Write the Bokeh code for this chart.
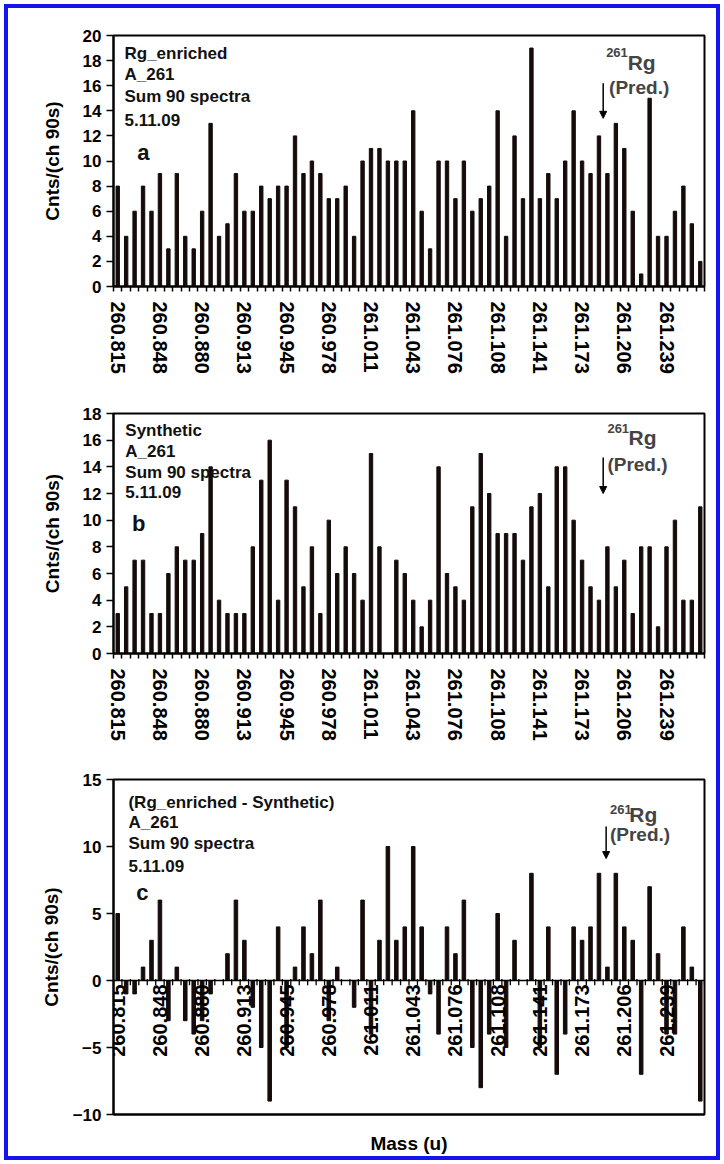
import numpy as np
from bokeh.plotting import figure
from bokeh.models import FixedTicker, Label, Arrow, NormalHead, Span, ColumnDataSource
from bokeh.layouts import column
from bokeh.embed import file_html
from bokeh.resources import INLINE
from bokeh.core.properties import value

# ---------------- data ----------------
mass_labels = ["260.815", "260.848", "260.880", "260.913", "260.945", "260.978", "261.011",
               "261.043", "261.076", "261.108", "261.141", "261.173", "261.206", "261.239"]
label_every = 5  # one mass label every 5 channels

enriched = [8, 4, 6, 8, 6, 9, 3, 9, 4, 3, 6, 13, 4, 5, 9, 6, 6, 8, 7, 8,
            8, 12, 9, 10, 9, 7, 7, 8, 4, 10, 11, 11, 10, 10, 10, 14, 6, 3, 10, 10,
            7, 10, 6, 7, 8, 14, 4, 12, 7, 19, 7, 9, 7, 10, 14, 10, 9, 12, 9, 13,
            11, 6, 1, 15, 4, 4, 6, 8, 5, 2]
synthetic = [3, 5, 7, 7, 3, 3, 6, 8, 7, 7, 9, 14, 4, 3, 3, 3, 8, 13, 16, 4,
             13, 11, 5, 8, 3, 10, 6, 8, 6, 4, 15, 8, 0, 7, 6, 4, 2, 4, 14, 6,
             5, 4, 11, 15, 12, 9, 9, 9, 7, 11, 12, 5, 14, 14, 10, 7, 5, 4, 8, 5,
             7, 3, 8, 8, 2, 8, 10, 4, 4, 11]
difference = [5, -1, -1, 1, 3, 6, -3, 1, -3, -4, -3, -1, 0, 2, 6, 3, -2, -5, -9, 4,
              -5, 1, 4, 2, 6, -3, 1, 0, -2, 6, -4, 3, 10, 3, 4, 10, 4, -1, -4, 4,
              2, 6, -5, -8, -4, 5, -5, 3, 0, 8, -5, 4, -7, -4, 4, 3, 4, 8, 1, 8,
              4, 3, -7, 7, 2, -4, -4, 4, 1, -9]

panel_titles = [["Rg_enriched", "A_261", "Sum 90 spectra", "5.11.09"],
                ["Synthetic", "A_261", "Sum 90 spectra", "5.11.09"],
                ["(Rg_enriched - Synthetic)", "A_261", "Sum 90 spectra", "5.11.09"]]
panel_letters = ["a", "b", "c"]

FONT = "Liberation Sans"
BAR = "#150b0b"
n = len(enriched)
channels = list(range(n))
label_pos = [label_every * k for k in range(len(mass_labels))]
boundaries = [i - 0.5 for i in range(n + 1)]


def base_fig(height, top, bottom, yr, yticks, standoff):
    p = figure(width=708, height=height, x_range=(-0.5, n - 0.5), y_range=yr,
               output_backend="svg", toolbar_location=None,
               min_border_left=105, min_border_right=12,
               min_border_top=top, min_border_bottom=bottom)
    p.background_fill_color = "white"
    p.border_fill_color = "white"
    p.outline_line_color = "black"
    p.outline_line_width = 2
    p.grid.visible = False
    ax = p.yaxis[0]
    ax.ticker = FixedTicker(ticks=yticks)
    ax.axis_line_width = 2
    ax.major_tick_out = 7
    ax.major_tick_in = 0
    ax.major_tick_line_width = 1.5
    ax.minor_tick_line_color = None
    ax.major_label_standoff = 5
    ax.major_label_text_font = FONT
    ax.major_label_text_font_style = "bold"
    ax.major_label_text_font_size = "17px"
    ax.major_label_text_color = "black"
    ax.axis_label = "Cnts/(ch 90s)"
    ax.axis_label_text_font = FONT
    ax.axis_label_text_font_style = "bold"
    ax.axis_label_text_font_size = "19px"
    ax.axis_label_text_color = "black"
    ax.axis_label_standoff = standoff
    return p


def style_mass_axis(p):
    ax = p.xaxis[0]
    ax.ticker = FixedTicker(ticks=label_pos, minor_ticks=boundaries)
    ax.major_label_overrides = {pos: lab for pos, lab in zip(label_pos, mass_labels)}
    ax.major_label_orientation = "vertical"
    ax.axis_line_width = 2
    ax.major_tick_line_color = None
    ax.major_tick_out = 0
    ax.minor_tick_out = 5
    ax.minor_tick_in = 0
    ax.minor_tick_line_width = 1.5
    ax.major_label_standoff = 10
    ax.major_label_text_font = FONT
    ax.major_label_text_font_style = "bold"
    ax.major_label_text_font_size = "20px"
    ax.major_label_text_color = "black"


def add_texts(p, lines, ys, x0, letter, lx, ly):
    for t, y in zip(lines, ys):
        p.add_layout(Label(x=x0, y=y, text=t, text_font=FONT, text_font_style="bold",
                           text_font_size="17px", text_baseline="middle", text_color="#111111"))
    p.add_layout(Label(x=lx, y=ly, text=letter, text_font=FONT, text_font_style="bold",
                       text_font_size="22px", text_baseline="middle", text_color="#111111"))


def add_pred(p, sx, sy, rx, ry, px, py, ax_, ay0, ay1):
    p.add_layout(Label(x=sx, y=sy, text="261", text_font=FONT, text_font_style="bold",
                       text_font_size="13px", text_baseline="middle"))
    p.add_layout(Label(x=rx, y=ry, text="Rg", text_font=FONT, text_font_style="bold",
                       text_font_size="21px", text_baseline="middle"))
    p.add_layout(Label(x=px, y=py, text="(Pred.)", text_font=FONT, text_font_style="bold",
                       text_font_size="19px", text_baseline="middle"))
    p.add_layout(Arrow(x_start=ax_, y_start=ay0, x_end=ax_, y_end=ay1, line_width=1.5,
                       line_color="black",
                       end=NormalHead(size=7, fill_color="black", line_color="black")))


# ---------------- panel a ----------------
p1 = base_fig(368, 27, 89, (0, 20), list(range(0, 21, 2)), 17)
p1.vbar(x=channels, top=enriched, width=0.4, color=BAR)
style_mass_axis(p1)
add_texts(p1, panel_titles[0], [18.57, 16.9, 15.16, 13.25], 0.8, panel_letters[0], 2.3, 10.7)
add_pred(p1, 57.85, 18.65, 60.4, 17.86, 58.2, 15.87, 57.5, 16.2, 13.4)

# ---------------- panel b ----------------
p2 = base_fig(372, 37, 95, (0, 18), list(range(0, 19, 2)), 17)
p2.vbar(x=channels, top=synthetic, width=0.4, color=BAR)
style_mass_axis(p2)
add_texts(p2, panel_titles[1], [16.7, 15.15, 13.6, 12.1], 0.9, panel_letters[1], 1.7, 9.75)
add_pred(p2, 58.0, 16.9, 60.5, 16.2, 58.0, 14.2, 57.5, 14.7, 12.0)

# ---------------- panel c ----------------
p3 = base_fig(408, 31, 42, (-10, 15), list(range(-10, 16, 5)), 8)
p3.vbar(x=channels, top=difference, width=0.42, color=BAR)
p3.add_layout(Span(location=0, dimension="width", line_color="black", line_width=1.5))
zsrc = ColumnDataSource(dict(x=boundaries, y0=[0.12] * len(boundaries), y1=[-0.35] * len(boundaries)))
p3.segment(x0="x", y0="y0", x1="x", y1="y1", source=zsrc, line_color="black", line_width=1.3)
lsrc = ColumnDataSource(dict(x=label_pos, y=[0] * len(label_pos), t=mass_labels))
p3.text(x="x", y="y", text="t", source=lsrc, angle=np.pi / 2, text_align="right",
        text_baseline="middle", y_offset=4, text_font=value(FONT), text_font_style="bold",
        text_font_size="20px", text_color="black")
xa = p3.xaxis[0]
xa.ticker = FixedTicker(ticks=[])
xa.axis_line_width = 2
xa.axis_label = "Mass (u)"
xa.axis_label_text_font = FONT
xa.axis_label_text_font_style = "bold"
xa.axis_label_text_font_size = "19px"
xa.axis_label_text_color = "black"
xa.axis_label_standoff = 18
add_texts(p3, panel_titles[2], [13.26, 11.77, 10.2, 8.56], 1.27, panel_letters[2], 2.2, 6.55)
add_pred(p3, 58.3, 12.74, 60.6, 12.37, 58.3, 10.9, 57.85, 11.5, 9.1)

layout = column(p1, p2, p3, styles={"border": "4px solid #1414ee", "margin": "4px",
                                    "background-color": "white"})

open("out.html", "w").write(file_html(layout, INLINE))
